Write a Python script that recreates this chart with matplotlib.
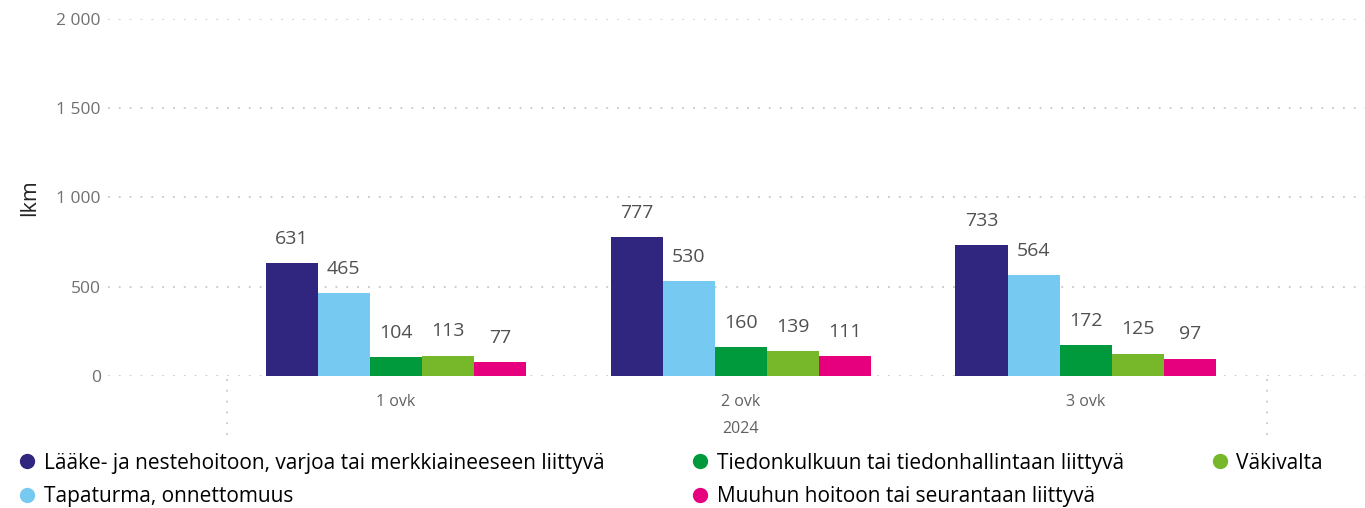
import numpy as np
import matplotlib
matplotlib.use("Agg")
import matplotlib.pyplot as plt
import matplotlib.transforms as mtransforms
from matplotlib.lines import Line2D

plt.rcParams['font.family'] = ['Open Sans', 'DejaVu Sans']

# data
categories = ["1 ovk", "2 ovk", "3 ovk"]
year_label = "2024"
series_names = [
    "Lääke- ja nestehoitoon, varjoa tai merkkiaineeseen liittyvä",
    "Tapaturma, onnettomuus",
    "Tiedonkulkuun tai tiedonhallintaan liittyvä",
    "Väkivalta",
    "Muuhun hoitoon tai seurantaan liittyvä",
]
laake = [631, 777, 733]
tapaturma = [465, 530, 564]
tiedonkulku = [104, 160, 172]
vakivalta = [113, 139, 125]
muu = [77, 111, 97]
series_values = [laake, tapaturma, tiedonkulku, vakivalta, muu]
colors = ["#30267f", "#76c9f0", "#009a3d", "#76b82a", "#e6007e"]
yticks = [0, 500, 1000, 1500, 2000]

fig = plt.figure(figsize=(13.65, 5.08), dpi=100)
ax = fig.add_axes([0.079, 0.26, 0.921, 0.7028])

x = np.arange(len(categories))
width = 0.151
for i, (name, vals, col) in enumerate(zip(series_names, series_values, colors)):
    offs = (i - 2) * width
    ax.bar(x + offs, vals, width, color=col, label=name, zorder=3)
    for xi, v in zip(x + offs, vals):
        ax.annotate(str(v), (xi, v), xytext=(0, 11), textcoords="offset points",
                    ha="center", va="bottom", fontsize=14, color="#505050")

ax.set_ylim(0, 2000)
ax.set_xlim(-0.835, 2.81)
ax.set_yticks(yticks)
ax.set_yticklabels([f"{v:,}".replace(",", " ") for v in yticks])
ax.tick_params(axis="y", length=0, pad=5, labelsize=12.5, labelcolor="#707070")
ax.set_xticks(x)
ax.set_xticklabels(categories)
ax.tick_params(axis="x", length=0, pad=13, labelsize=11.5, labelcolor="#606060")
ax.grid(axis="y", color="#c8c8c8", linestyle=(0, (1, 5)), linewidth=1.3, zorder=0)
for s in ax.spines.values():
    s.set_visible(False)

ax.set_ylabel("lkm", fontsize=15.5, color="#252423", labelpad=12)

# year label and hierarchy separators
trans = mtransforms.blended_transform_factory(ax.transData, ax.transAxes)
ax.text(1, -0.15, year_label, transform=trans, ha="center", va="center",
        fontsize=11.5, color="#606060")
for sx in [-0.49, 2.525]:
    ax.plot([sx, sx], [-0.01, -0.18], transform=trans, color="#c8c8c8",
            linestyle=(0, (1, 5)), linewidth=1.3, clip_on=False)

# legend: column-major order as in the reference
order = [0, 1, 2, 4, 3]
handles = [Line2D([], [], linestyle="none", marker="o", markersize=10,
                  markerfacecolor=colors[i], markeredgecolor=colors[i]) for i in order]
fig.legend(handles, [series_names[i] for i in order],
           loc="lower left", bbox_to_anchor=(0.0, -0.035), ncol=3,
           frameon=False, fontsize=15, handlelength=0.8,
           handletextpad=0.4, columnspacing=4.2, labelspacing=0.6)

fig.savefig("out.png", dpi=100)
